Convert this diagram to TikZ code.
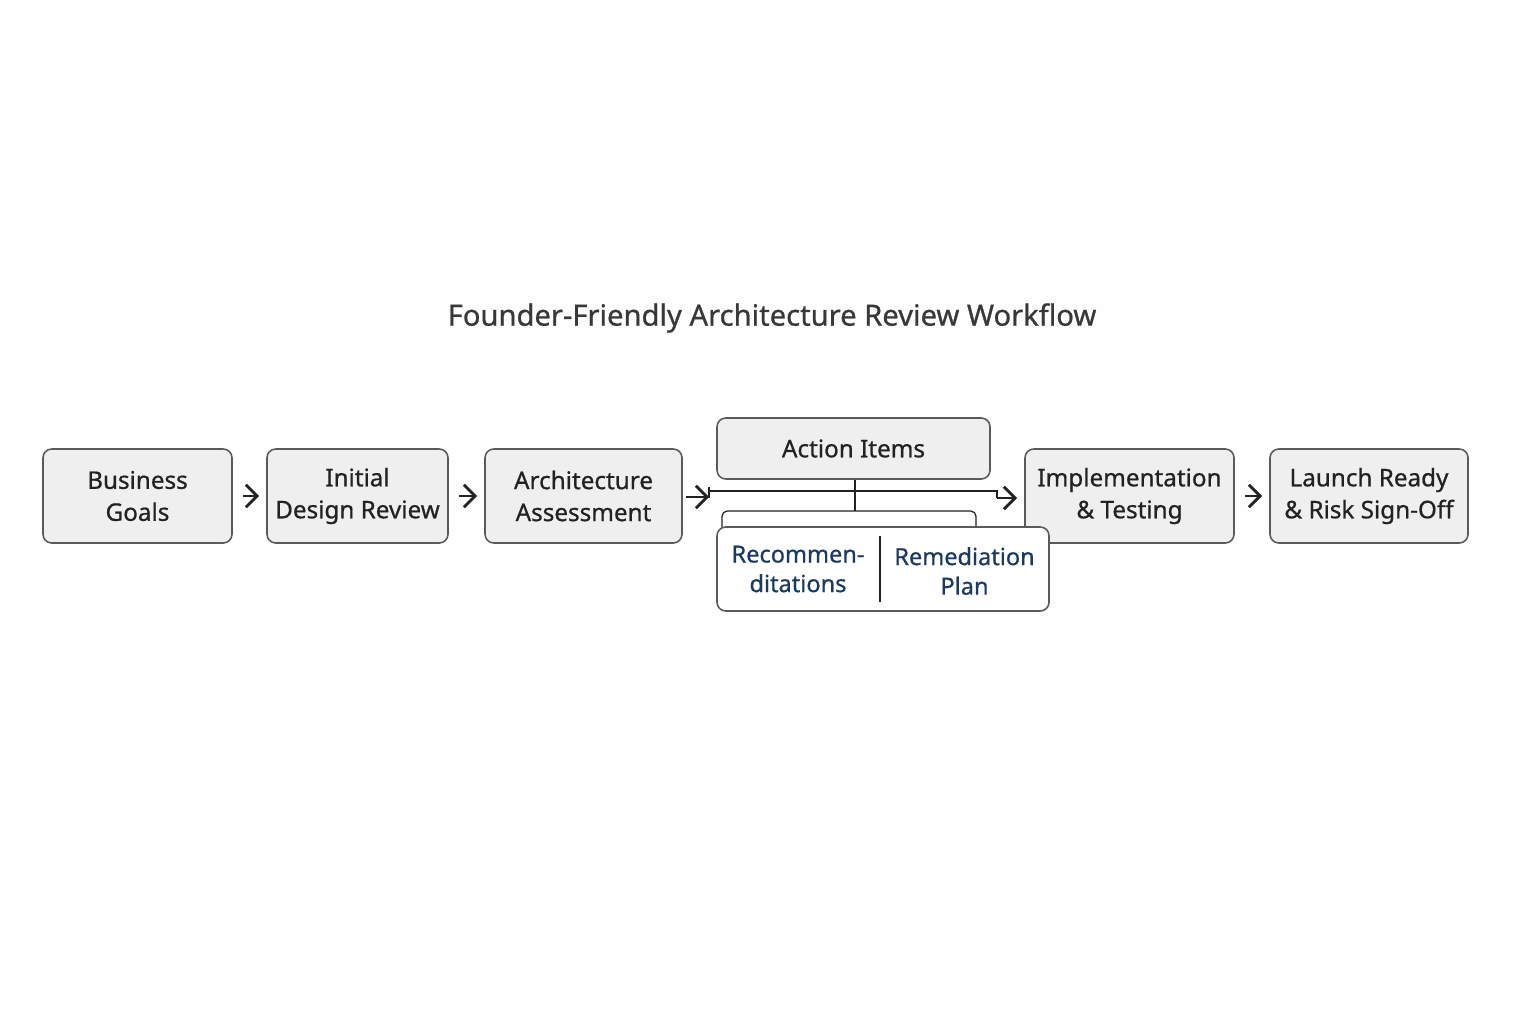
\documentclass[tikz,border=0pt]{standalone}
\usepackage{fontspec}
\setmainfont{Noto Sans}
\newfontfamily\boxfont[RawFeature={embolden=0.7}]{Noto Sans}
\usepackage{tikz}
\usetikzlibrary{positioning,arrows.meta,calc}
\definecolor{boxfill}{HTML}{EFEFEF}
\definecolor{boxline}{HTML}{5A5A5A}
\definecolor{ink}{HTML}{222222}
\definecolor{navy}{HTML}{1B3A63}
\tikzset{
	stage/.style={draw=boxline,fill=boxfill,rounded corners=2.5pt,line width=0.45pt,align=center,
		text=ink,font=\boxfont\fontsize{6.9}{9.1}\selectfont,minimum height=0.94cm,inner sep=0pt},
	flow/.style={-{Straight Barb[length=3.2pt,width=6.4pt]},line width=0.8pt,ink},
	link/.style={line width=0.35pt,ink},
}
\begin{document}
\begin{tikzpicture}[x=1cm,y=1cm]
		\def\W{15.36}
		\def\H{10.24}
		\def\ym{5.28}
		\fill[white!99!gray] (0,0) rectangle (\W,\H);
		\useasboundingbox (0,0) rectangle (\W,\H);
		\node[text=ink!90,font=\boxfont\fontsize{8.3}{9}\selectfont] (title) at (7.72,7.06) {Founder-Friendly Architecture Review Workflow};
		%main stages
		\node[stage,minimum width=1.89cm] (goals) at (1.375,\ym) {Business\\Goals};
		\node[stage,minimum width=1.81cm] (init) at (3.575,\ym) {Initial\\Design Review};
		\node[stage,minimum width=1.97cm] (arch) at (5.835,\ym) {Architecture\\Assessment};
		\node[stage,minimum width=2.73cm,minimum height=0.61cm] (act) at (8.535,5.755) {Action Items};
		\node[stage,minimum width=2.09cm] (impl) at (11.295,\ym) {Implementation\\\& Testing};
		\node[stage,minimum width=1.98cm] (launch) at (13.69,\ym) {Launch Ready\\\& Risk Sign-Off};
		%join under action items
		\coordinate (jin) at (7.09,5.33);
		\coordinate (jout) at (9.97,5.33);
		\coordinate (brl) at (7.22,5.13);
		\coordinate (brr) at (9.76,5.13);
		\draw[link] (act.south -| 8.55,0) -- (8.55,5.13);
		\draw[link] ($(jin)+(0,0.04)$) -- ($(jin)+(0,-0.07)$);
		\draw[link] (jin) -- (jout) -- ++(0,-0.07);
		\draw[link,rounded corners=1.5pt] (7.22,4.9) -- (brl) -- (brr) -- (9.76,4.9);
		%recommendations
		\node[draw=boxline,fill=white,rounded corners=2.5pt,line width=0.45pt,minimum width=3.32cm,minimum height=0.84cm] (recbox) at (8.83,4.55) {};
		\node[text=navy,align=center,font=\boxfont\fontsize{6.7}{8.4}\selectfont] (recA) at (7.98,4.55) {Recommen-\\ditations};
		\node[text=navy,align=center,font=\boxfont\fontsize{6.7}{8.4}\selectfont] (recB) at (9.645,4.53) {Remediation\\Plan};
		\draw[link] (8.80,4.88) -- (8.80,4.22);
		%arrows
		\draw[flow,shorten <=3pt,shorten >=2pt] (goals) -- (init);
		\draw[flow,shorten <=3pt,shorten >=2pt] (init) -- (arch);
		\draw[flow,shorten <=1pt] (arch.east |- 0,5.27) -- (jin |- 0,5.27);
		\draw[flow,shorten >=2pt] (jout |- 0,5.26) -- (impl.west |- 0,5.26);
		\draw[flow,shorten <=3pt,shorten >=2pt] (impl) -- (launch);
	\end{tikzpicture}
\end{document}
